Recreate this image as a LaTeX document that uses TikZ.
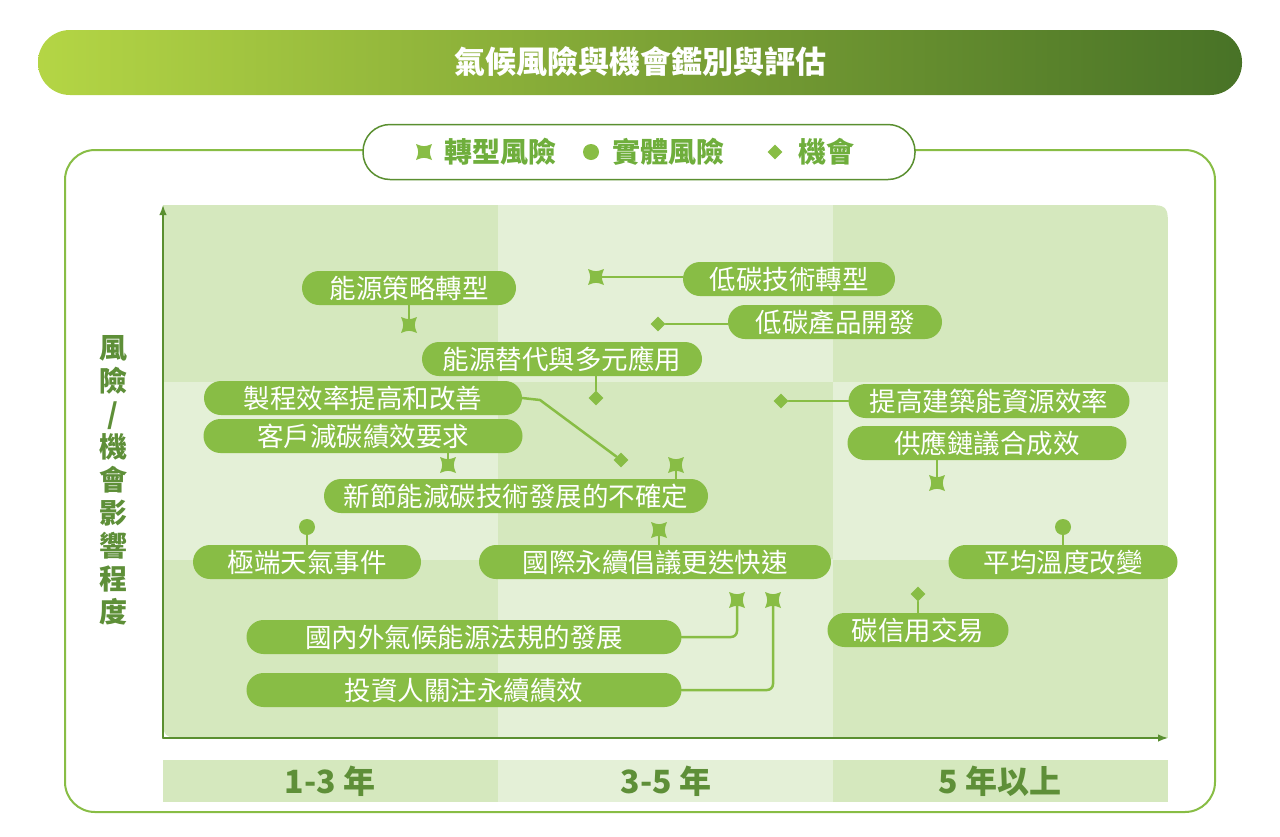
\documentclass[tikz,border=0pt]{standalone}
\usepackage{fontspec}
\setmainfont{Noto Sans CJK TC}
\usetikzlibrary{shapes.geometric,arrows.meta}
\definecolor{pillgreen}{HTML}{88BD45}
\definecolor{darkgreen}{HTML}{5A8F30}
\definecolor{cellA}{HTML}{D5E8BE}
\definecolor{cellB}{HTML}{E4F0D7}
\definecolor{legendtext}{HTML}{6FAE3C}
\definecolor{axislabel}{HTML}{5E8F38}
\tikzset{
  pill/.style={fill=pillgreen, text=white, rounded corners=17pt, minimum height=34pt,
    inner xsep=12pt, font=\fontsize{26.5}{26.5}\selectfont},
  link/.style={draw=pillgreen, line width=2.5pt},
  opp/.style={diamond, fill=pillgreen, minimum size=15pt, inner sep=0pt},
  phys/.style={circle, fill=pillgreen, minimum size=16pt, inner sep=0pt},
  riskx/.pic={\fill[pillgreen] (-8,-8) .. controls (0,-5) .. (8,-8) .. controls (5,0) .. (8,8)
     .. controls (0,5) .. (-8,8) .. controls (-5,0) .. (-8,-8) -- cycle;}
}
\begin{document}
\begin{tikzpicture}[x=1pt, y=-1pt, line cap=round, line join=round]
  \useasboundingbox (0,0) rectangle (1280,836);

  % Titel
  \shade[left color=pillgreen!70!yellow!90!white, right color=darkgreen!80!black, rounded corners=32pt]
    (38,30) rectangle (1242,95);
  \node[text=white, font=\fontsize{31}{31}\selectfont\bfseries] (title) at (640,62) {氣候風險與機會鑑別與評估};

  % Kader
  \draw[pillgreen, line width=2pt, fill=white, rounded corners=30pt] (65,150) rectangle (1215,812);

  % Legende
  \node[draw=darkgreen, line width=1.5pt, fill=white, rounded corners=27pt, minimum width=552pt,
    minimum height=55pt] (legend) at (639,152) {};
  \pic at (424,152) {riskx};
  \node[phys] (lgphys) at (591,152) {};
  \node[opp] (lgopp) at (775,152) {};
  \node[text=legendtext, font=\fontsize{28}{28}\selectfont\bfseries] (lgtrans) at (500,152) {轉型風險};
  \node[text=legendtext, font=\fontsize{28}{28}\selectfont\bfseries] (lgphystext) at (668,152) {實體風險};
  \node[text=legendtext, font=\fontsize{28}{28}\selectfont\bfseries] (lgopptext) at (826,152) {機會};

  % Raster
  \begin{scope}
    \clip (163,205) -- (1143,205) .. controls (1168,205) .. (1168,230) -- (1168,738)
      -- (188,738) .. controls (163,738) .. (163,713) -- cycle;
    \foreach \c/\r in {0/0,2/0,1/1,0/2,2/2}
      \fill[cellA] (163+335*\c,205+177*\r) rectangle (498+335*\c,382+178*\r);
    \foreach \c/\r in {1/0,0/1,2/1,1/2}
      \fill[cellB] (163+335*\c,205+177*\r) rectangle (498+335*\c,382+178*\r);
  \end{scope}

  % Assen
  \draw[darkgreen, line width=1.5pt, -{Latex[length=10pt]}] (163,738) -- (163,205);
  \draw[darkgreen, line width=1.5pt, -{Latex[length=10pt]}] (163,738) -- (1168,738);
  \node[text=axislabel, align=center, font=\fontsize{28}{33}\selectfont\bfseries] (ylabel) at (113,480)
    {風\\險\\/\\機\\會\\影\\響\\程\\度};

  % Tijdas
  \fill[cellA] (163,760) rectangle (1168,802);
  \fill[cellB] (498,760) rectangle (833,802);
  \foreach \x/\t [count=\i] in {330/1-3 年, 666/3-5 年, 1000/5 年以上}
    \node[text=axislabel, font=\fontsize{32}{32}\selectfont\bfseries] (t\i) at (\x,781) {\t};

  % Etiketten
  \node[pill, minimum width=214pt] (strategy) at (409,288) {能源策略轉型};
  \node[pill, minimum width=212pt] (lowtech) at (789,279) {低碳技術轉型};
  \node[pill, minimum width=214pt] (lowprod) at (835,322) {低碳產品開發};
  \node[pill, minimum width=280pt] (substitute) at (562,359) {能源替代與多元應用};
  \node[pill, minimum width=318pt] (process) at (363,398) {製程效率提高和改善};
  \node[pill, minimum width=319pt] (customer) at (363,436) {客戶減碳績效要求};
  \node[pill, minimum width=384pt] (newtech) at (516,496) {新節能減碳技術發展的不確定};
  \node[pill, minimum width=228pt] (extreme) at (307,562) {極端天氣事件};
  \node[pill, minimum width=352pt] (initiative) at (655,562) {國際永續倡議更迭快速};
  \node[pill, minimum width=435pt] (regulation) at (464,637) {國內外氣候能源法規的發展};
  \node[pill, minimum width=435pt] (investor) at (464,690) {投資人關注永續績效};
  \node[pill, minimum width=281pt] (building) at (989,401) {提高建築能資源效率};
  \node[pill, minimum width=279pt] (supply) at (987,443) {供應鏈議合成效};
  \node[pill, minimum width=229pt] (temperature) at (1063,562) {平均溫度改變};
  \node[pill, minimum width=181pt] (credit) at (918,630) {碳信用交易};

  % Markeringen
  \coordinate (mStrategy) at (409,325);
  \coordinate (mLowtech) at (596,277);
  \coordinate (mCustomer) at (448,465);
  \coordinate (mNewtech) at (676,465);
  \coordinate (mInitiative) at (659,530);
  \coordinate (mRegulation) at (737,600);
  \coordinate (mInvestor) at (773,600);
  \coordinate (mSupply) at (937,483);
  \node[opp] (mLowprod) at (658,324) {};
  \node[opp] (mSubstitute) at (596,398) {};
  \node[opp] (mProcess) at (621,460) {};
  \node[opp] (mBuilding) at (781,401) {};
  \node[opp] (mCredit) at (918,594) {};
  \node[phys] (mExtreme) at (307,527) {};
  \node[phys] (mTemperature) at (1063,527) {};

  % Verbindingen
  \draw[link] (strategy.south) -- (mStrategy);
  \draw[link] (mLowtech -| lowtech.west) -- (mLowtech);
  \draw[link] (mLowprod -| lowprod.west) -- (mLowprod);
  \draw[link] (substitute.south -| mSubstitute) -- (mSubstitute);
  \draw[link] (process.east) -- (540,400) -- (mProcess);
  \draw[link] (customer.south -| mCustomer) -- (mCustomer);
  \draw[link] (newtech.north -| mNewtech) -- (mNewtech);
  \draw[link] (initiative.north -| mInitiative) -- (mInitiative);
  \draw[link, rounded corners=6pt] (regulation.east) -| (mRegulation);
  \draw[link, rounded corners=6pt] (investor.east) -| (mInvestor);
  \draw[link] (building.west) -- (mBuilding);
  \draw[link] (supply.south -| mSupply) -- (mSupply);
  \draw[link] (extreme.north) -- (mExtreme);
  \draw[link] (temperature.north) -- (mTemperature);
  \draw[link] (credit.north) -- (mCredit);
  \foreach \m in {mStrategy,mLowtech,mCustomer,mNewtech,mInitiative,mRegulation,mInvestor,mSupply}
    \pic at (\m) {riskx};
\end{tikzpicture}
\end{document}
